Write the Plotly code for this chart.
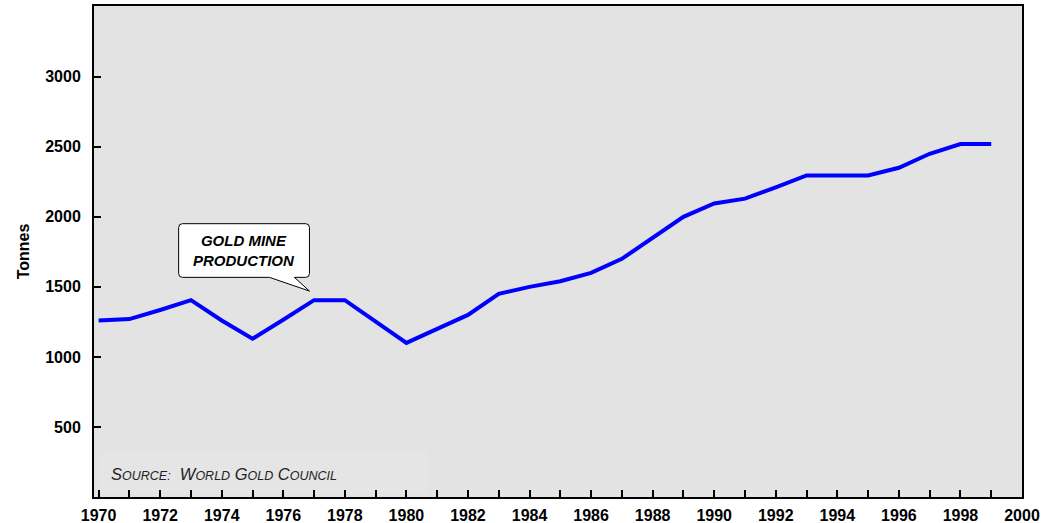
import plotly.graph_objects as go

years = list(range(1970, 2000))
production = [1260, 1270, 1335, 1405, 1260, 1130, 1265, 1405, 1405, 1250,
              1100, 1200, 1300, 1450, 1500, 1540, 1600, 1700, 1850, 2000,
              2095, 2130, 2210, 2295, 2295, 2295, 2350, 2450, 2520, 2520]
y_ticks = [500, 1000, 1500, 2000, 2500, 3000]
x_ticks = list(range(1970, 2001, 2))

FONT = "Liberation Sans, Arial, sans-serif"

fig = go.Figure()
fig.add_trace(go.Scatter(x=years, y=production, mode="lines",
                         line=dict(color="#0000ff", width=4), showlegend=False))

# faint source box
fig.add_shape(type="rect", xref="paper", yref="paper", x0=0.0065, x1=0.36, y0=0.008, y1=0.093,
              fillcolor="#e5e5e5", line=dict(width=0), layer="below")

# callout bubble (data coordinates)
bx0, bx1 = 1972.60, 1976.85
by0, by1 = 1568, 1951
rx, ry = 0.12, 28
px0, px1 = 1975.55, 1976.36
tipx, tipy = 1976.85, 1470
path = (f"M {bx0+rx},{by1} L {bx1-rx},{by1} Q {bx1},{by1} {bx1},{by1-ry} "
        f"L {bx1},{by0+ry} Q {bx1},{by0} {bx1-rx},{by0} "
        f"L {px1},{by0} L {tipx},{tipy} L {px0},{by0} "
        f"L {bx0+rx},{by0} Q {bx0},{by0} {bx0},{by0+ry} "
        f"L {bx0},{by1-ry} Q {bx0},{by1} {bx0+rx},{by1} Z")
fig.add_shape(type="path", path=path, xref="x", yref="y",
              fillcolor="white", line=dict(color="black", width=1), layer="above")

fig.add_annotation(x=(bx0 + bx1) / 2, y=(by0 + by1) / 2, xref="x", yref="y",
                   text="<b><i>GOLD MINE<br>PRODUCTION</i></b>", showarrow=False,
                   font=dict(family=FONT, size=15, color="black"))

src = ("<i><span style='font-size:16.5px'>S</span><span style='font-size:12.5px'>OURCE:</span>"
       "&nbsp;&nbsp;<span style='font-size:16.5px'>W</span><span style='font-size:12.5px'>ORLD</span> "
       "<span style='font-size:16.5px'>G</span><span style='font-size:12.5px'>OLD</span> "
       "<span style='font-size:16.5px'>C</span><span style='font-size:12.5px'>OUNCIL</span></i>")
fig.add_annotation(x=0.016, y=0.025, xref="paper", yref="paper", xanchor="left", yanchor="bottom",
                   text=src, showarrow=False, font=dict(family=FONT, size=16.5, color="#222222"))

fig.update_layout(
    width=1050, height=523,
    margin=dict(l=94, r=28, t=6, b=26),
    paper_bgcolor="white", plot_bgcolor="#e3e3e3",
    font=dict(family=FONT, color="black"),
)
fig.update_xaxes(range=[1969.85, 2000.0], tickvals=x_ticks, ticktext=[str(v) for v in x_ticks],
                 ticks="inside", ticklen=7, tickwidth=2, tickcolor="black",
                 minor=dict(dtick=1, tick0=1970, ticks="inside", ticklen=7, tickwidth=2, tickcolor="black", showgrid=False),
                 showgrid=False, zeroline=False, showline=True, linecolor="black", linewidth=2, mirror=True,
                 tickfont=dict(family=FONT, size=16, color="black", weight="bold"),
                 ticklabelstandoff=3, automargin=False)
fig.update_yaxes(range=[0, 3505], tickvals=y_ticks, ticktext=[str(v) for v in y_ticks],
                 ticks="inside", ticklen=7, tickwidth=2, tickcolor="black",
                 showgrid=False, zeroline=False, showline=True, linecolor="black", linewidth=2, mirror=True,
                 tickfont=dict(family=FONT, size=16, color="black", weight="bold"),
                 ticklabelstandoff=8, automargin=False,
                 title=dict(text="<b>Tonnes</b>", font=dict(family=FONT, size=16, color="black"), standoff=12))

fig.write_html("out.html", config={"displayModeBar": False},
               post_script="document.body.style.margin='0';document.body.style.padding='0';")
